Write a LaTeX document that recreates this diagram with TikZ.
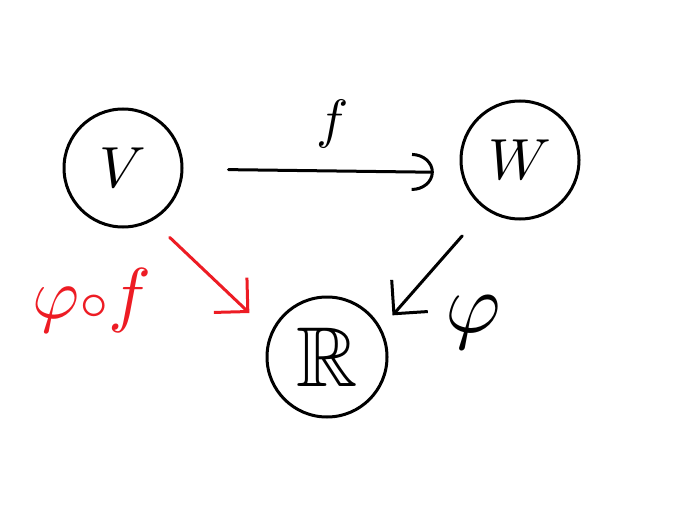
\documentclass[tikz,border=0pt]{standalone}
\usepackage{amssymb}
\usetikzlibrary{arrows.meta}
\definecolor{paintred}{RGB}{237,28,36}
\tikzset{
  obj/.style={circle, draw=black, line width=3pt, minimum size=118pt, inner sep=0pt},
  conn/.style={line width=3pt, line cap=round, line join=round},
  bigbarb/.style={-{Straight Barb[length=24pt,width=48pt,line width=3pt]}},
  lbl/.style={inner sep=0pt}
}
\begin{document}
\begin{tikzpicture}[x=1pt,y=-1pt]
\useasboundingbox (0,0) rectangle (674,532);
\node[obj] (V) at (123,168) {\scalebox{5.8}{$V$}};
\node[obj] (W) at (520,160) {\scalebox{5.8}{$W$}};
\node[obj, minimum size=120pt] (R) at (327,357) {\scalebox{8.5}{$\mathbb{R}$}};
\draw[conn, -{Arc Barb[length=22pt,width=38pt,line width=3pt]}, shorten <=45pt, shorten >=27pt] (V.-1) -- (W.192);
\node[lbl] (lf) at (333,124) {\scalebox{5.4}{$f$}};
\draw[conn, bigbarb, shorten <=35pt, shorten >=17pt] (W.235) -- (R.28.5);
\node[lbl] (lphi) at (473,322) {\scalebox{8.5}{$\varphi$}};
\draw[conn, paintred, bigbarb, shorten <=24pt, shorten >=29pt] (V.-61) -- (R.157);
\node[lbl, text=paintred] (lcomp) at (92,300) {\scalebox{7.2}{$\varphi{\scriptstyle\circ}f$}};
\end{tikzpicture}
\end{document}
